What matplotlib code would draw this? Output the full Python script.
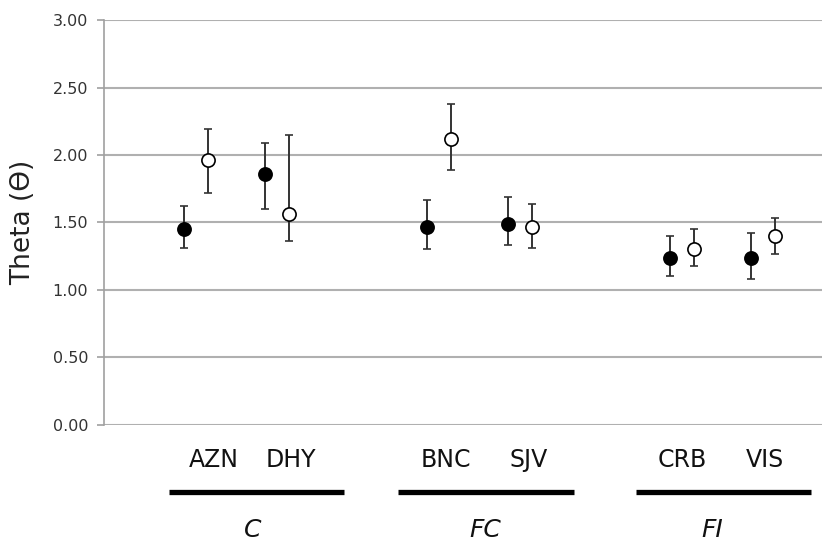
import numpy as np
import matplotlib
matplotlib.use("Agg")
import matplotlib.pyplot as plt

# --- DATA ---
sites = ["AZN", "DHY", "BNC", "SJV", "CRB", "VIS"]
groups = ["C", "FC", "FI"]

# filled circles
theta_filled = [1.45, 1.86, 1.47, 1.49, 1.24, 1.24]
lower_filled = [1.31, 1.60, 1.30, 1.33, 1.10, 1.08]
upper_filled = [1.62, 2.09, 1.67, 1.69, 1.40, 1.42]

# open circles
theta_open = [1.96, 1.56, 2.12, 1.47, 1.30, 1.40]
lower_open = [1.72, 1.36, 1.89, 1.31, 1.18, 1.27]
upper_open = [2.19, 2.15, 2.38, 1.64, 1.45, 1.53]

yticks = [0.0, 0.5, 1.0, 1.5, 2.0, 2.5, 3.0]

# --- LAYOUT ---
site_x = np.array([0, 1, 3, 4, 6, 7], dtype=float)
label_shift = np.array([0.22, 0.17, 0.09, 0.11, 0.01, 0.03])
offset = 0.15
bar_spans = [(-0.33, 1.83), (2.49, 4.67), (5.43, 7.60)]
group_label_x = [0.70, 3.57, 6.38]

fig = plt.figure(figsize=(8.22, 5.42), dpi=100)
fig.patch.set_facecolor("white")
ax = fig.add_axes([0.126, 0.216, 0.874, 0.747])

ax.set_xlim(-1.142, 7.73)
ax.set_ylim(0, 3.0)

ax.set_yticks(yticks)
ax.set_yticklabels([f"{v:.2f}" for v in yticks])
ax.yaxis.grid(True, color="#b0b0b0", linewidth=1.5)
ax.set_axisbelow(True)

for side in ["top", "right", "bottom"]:
    ax.spines[side].set_visible(False)
ax.spines["left"].set_color("#a0a0a0")
ax.spines["left"].set_linewidth(1.2)
ax.tick_params(axis="y", colors="#a0a0a0", length=5, width=1.2, pad=6,
               labelcolor="#333333", labelsize=11.5)
ax.set_xticks([])

ax.set_ylabel("Theta (\u03f4)", fontsize=19, color="#222222", labelpad=12)

def draw(xs, vals, lo, hi, face):
    vals = np.array(vals)
    err = [vals - np.array(lo), np.array(hi) - vals]
    ax.errorbar(xs, vals, yerr=err, fmt="o", markersize=9.5,
                markerfacecolor=face, markeredgecolor="black",
                markeredgewidth=1.2, ecolor="#333333", elinewidth=1.4,
                capsize=3, capthick=1.4, zorder=3)

draw(site_x - offset, theta_filled, lower_filled, upper_filled, "black")
draw(site_x + offset, theta_open, lower_open, upper_open, "white")

# site labels
trans = ax.get_xaxis_transform()
for x, shift, name in zip(site_x, label_shift, sites):
    ax.text(x + shift, -0.086, name, transform=trans, ha="center", va="center",
            fontsize=17, color="#111111", clip_on=False)

# group bars and labels
for name, (x0, x1), gx in zip(groups, bar_spans, group_label_x):
    ax.plot([x0, x1], [-0.165, -0.165], transform=trans, color="black",
            linewidth=3.8, solid_capstyle="butt", clip_on=False)
    ax.text(gx, -0.259, name, transform=trans, ha="center",
            va="center", fontsize=18, style="italic", color="#111111",
            clip_on=False)

fig.savefig("out.png", dpi=100)
